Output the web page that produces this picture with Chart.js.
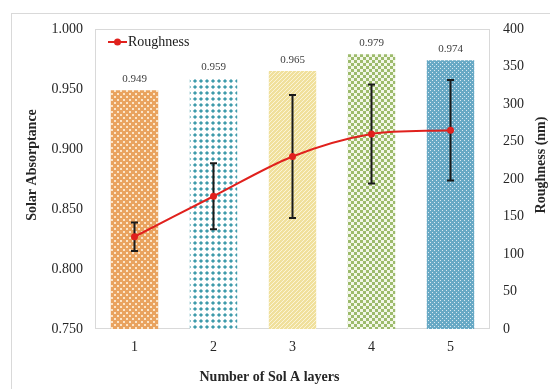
<!DOCTYPE html>
<html>
<head>
<meta charset="utf-8">
<script src="https://cdn.jsdelivr.net/npm/chart.js@4.4.1/dist/chart.umd.min.js"></script>
<style>
  html, body { margin: 0; padding: 0; background: #ffffff; }
  #wrap { width: 550px; height: 389px; position: relative; }
</style>
</head>
<body>
<div id="wrap"><canvas id="c" width="550" height="389"></canvas></div>
<script>
// Number of Sol A layers
const categories = ['1', '2', '3', '4', '5'];
// Solar absorptance per sample (bars, left axis)
const absorptance = [0.949, 0.959, 0.965, 0.979, 0.974];
// Surface roughness in nm (line, right axis) and its standard deviation
const roughness = [123, 177, 230, 260, 265];
const roughnessErr = [19, 44, 82, 66, 67];
// Axis ranges
const absorptanceTicks = { min: 0.75, max: 1.0, step: 0.05 };
const roughnessTicks = { min: 0, max: 400, step: 50 };

const SERIF = '"Liberation Serif", "Times New Roman", serif';
const canvas = document.getElementById('c');
const ctx = canvas.getContext('2d');

// Small tiles used as fill patterns for the bars
function tile(size, paint) {
  const t = document.createElement('canvas');
  t.width = t.height = size;
  paint(t.getContext('2d'), size);
  return ctx.createPattern(t, 'repeat');
}
const patterns = [
  tile(6, (g, s) => {            // orange, small light dots
    g.fillStyle = '#E9A35F'; g.fillRect(0, 0, s, s);
    g.fillStyle = '#FBE5C9';
    g.fillRect(0, 0, 2, 2); g.fillRect(3, 3, 2, 2);
  }),
  tile(6, (g, s) => {            // teal diamonds on white
    g.fillStyle = '#ffffff'; g.fillRect(0, 0, s, s);
    g.fillStyle = '#3F9BAB';
    g.beginPath();
    g.moveTo(3, 0.9); g.lineTo(5.1, 3); g.lineTo(3, 5.1); g.lineTo(0.9, 3);
    g.closePath(); g.fill();
  }),
  tile(4, (g, s) => {            // yellow, fine diagonal stripes
    g.fillStyle = '#F0E09C'; g.fillRect(0, 0, s, s);
    g.strokeStyle = '#FBF4D6'; g.lineWidth = 1;
    g.beginPath();
    g.moveTo(0, s); g.lineTo(s, 0);
    g.moveTo(-1, 1); g.lineTo(1, -1);
    g.moveTo(s - 1, s + 1); g.lineTo(s + 1, s - 1);
    g.stroke();
  }),
  tile(6, (g, s) => {            // green checkerboard
    g.fillStyle = '#F3F7E8'; g.fillRect(0, 0, s, s);
    g.fillStyle = '#9DBB6C';
    g.fillRect(0, 0, 3, 3); g.fillRect(3, 3, 3, 3);
  }),
  tile(4, (g, s) => {            // blue with white dots
    g.fillStyle = '#68A9C5'; g.fillRect(0, 0, s, s);
    g.fillStyle = 'rgba(255,255,255,0.75)';
    g.fillRect(0, 0, 1, 1); g.fillRect(2, 2, 1, 1);
  })
];

// Page frame, plot frame and axis titles
const framePlugin = {
  id: 'frame',
  beforeDraw(chart) {
    const c = chart.ctx;
    c.save();
    c.fillStyle = '#ffffff';
    c.fillRect(0, 0, chart.width, chart.height);
    c.strokeStyle = '#D9D9D9';
    c.lineWidth = 1;
    c.strokeRect(11.5, 13.5, chart.width + 20, chart.height + 20);
    c.restore();
  },
  beforeDatasetsDraw(chart) {
    const a = chart.chartArea, c = chart.ctx;
    c.save();
    c.strokeStyle = '#D9D9D9';
    c.lineWidth = 1;
    c.strokeRect(a.left + 0.5, a.top + 0.5, a.right - a.left - 1, a.bottom - a.top - 1);
    c.restore();
  },
  afterDraw(chart) {
    const a = chart.chartArea, c = chart.ctx;
    const midY = (a.top + a.bottom) / 2 - 14;
    c.save();
    c.fillStyle = '#262626';
    c.font = 'bold 14px ' + SERIF;
    c.textAlign = 'center';
    c.textBaseline = 'middle';
    c.fillText('Number of Sol A layers', (a.left + a.right) / 2 - 23, 377);
    c.translate(32, midY);
    c.rotate(-Math.PI / 2);
    c.fillText('Solar Absorptance', 0, 0);
    c.restore();
    c.save();
    c.fillStyle = '#262626';
    c.font = 'bold 14px ' + SERIF;
    c.textAlign = 'center';
    c.textBaseline = 'middle';
    c.translate(541, midY);
    c.rotate(-Math.PI / 2);
    c.fillText('Roughness (nm)', 0, 0);
    c.restore();
  }
};

// Error bars on the roughness points, value labels above the bars, legend
const overlayPlugin = {
  id: 'overlay',
  afterDatasetDraw(chart, args) {
    if (args.index !== 0) return;
    const c = chart.ctx;
    const y1 = chart.scales.y1;
    const lineMeta = chart.getDatasetMeta(1);
    c.save();
    c.strokeStyle = '#1A1A1A';
    c.lineWidth = 2;
    lineMeta.data.forEach((pt, i) => {
      const top = y1.getPixelForValue(roughness[i] + roughnessErr[i]);
      const bot = y1.getPixelForValue(roughness[i] - roughnessErr[i]);
      c.beginPath();
      c.moveTo(pt.x, top); c.lineTo(pt.x, bot);
      c.moveTo(pt.x - 3.5, top); c.lineTo(pt.x + 3.5, top);
      c.moveTo(pt.x - 3.5, bot); c.lineTo(pt.x + 3.5, bot);
      c.stroke();
    });
    c.restore();
  },
  afterDatasetsDraw(chart) {
    const c = chart.ctx;
    const barMeta = chart.getDatasetMeta(0);
    c.save();
    c.fillStyle = '#404040';
    c.font = '11px ' + SERIF;
    c.textAlign = 'center';
    c.textBaseline = 'middle';
    barMeta.data.forEach((bar, i) => {
      c.fillText(absorptance[i].toFixed(3), bar.x, bar.y - 11);
    });
    c.restore();

    // legend for the line series
    const ds = chart.data.datasets[1];
    const a = chart.chartArea;
    const ly = a.top + 13;
    c.save();
    c.strokeStyle = ds.borderColor;
    c.lineWidth = 2;
    c.beginPath();
    c.moveTo(a.left + 13, ly); c.lineTo(a.left + 32, ly);
    c.stroke();
    c.fillStyle = ds.backgroundColor;
    c.beginPath();
    c.arc(a.left + 22.5, ly, 3.5, 0, Math.PI * 2);
    c.fill();
    c.fillStyle = '#1A1A1A';
    c.font = '14px ' + SERIF;
    c.textAlign = 'left';
    c.textBaseline = 'middle';
    c.fillText(ds.label, a.left + 33, ly);
    c.restore();
  }
};

new Chart(canvas, {
  type: 'bar',
  data: {
    labels: categories,
    datasets: [
      {
        type: 'bar',
        label: 'Solar Absorptance',
        data: absorptance,
        yAxisID: 'y',
        backgroundColor: patterns,
        borderWidth: 0,
        barPercentage: 0.6,
        categoryPercentage: 1.0,
        order: 2
      },
      {
        type: 'line',
        label: 'Roughness',
        data: roughness,
        yAxisID: 'y1',
        borderColor: '#E0211D',
        backgroundColor: '#E0211D',
        borderWidth: 2,
        pointRadius: 3.5,
        pointHoverRadius: 3.5,
        pointBorderWidth: 0,
        tension: 0.3,
        fill: false,
        order: 1
      }
    ]
  },
  options: {
    responsive: false,
    animation: false,
    devicePixelRatio: 1,
    layout: { padding: { top: 29, left: 0, right: 0, bottom: 0 } },
    plugins: {
      legend: { display: false },
      tooltip: { enabled: false },
      title: { display: false }
    },
    scales: {
      x: {
        grid: { display: false, drawTicks: false },
        border: { display: false },
        ticks: { color: '#262626', font: { family: SERIF, size: 14 }, padding: 10 },
        afterFit(s) { s.height = 60; }
      },
      y: {
        position: 'left',
        min: absorptanceTicks.min,
        max: absorptanceTicks.max,
        grid: { display: false, drawTicks: false },
        border: { display: false },
        ticks: {
          stepSize: absorptanceTicks.step,
          color: '#262626',
          font: { family: SERIF, size: 14 },
          padding: 12,
          callback: v => Number(v).toFixed(3)
        },
        afterFit(s) { s.width = 95; }
      },
      y1: {
        position: 'right',
        min: roughnessTicks.min,
        max: roughnessTicks.max,
        grid: { display: false, drawTicks: false },
        border: { display: false },
        ticks: {
          stepSize: roughnessTicks.step,
          color: '#262626',
          font: { family: SERIF, size: 14 },
          padding: 13
        },
        afterFit(s) { s.width = 60; }
      }
    }
  },
  plugins: [framePlugin, overlayPlugin]
});
</script>
</body>
</html>
